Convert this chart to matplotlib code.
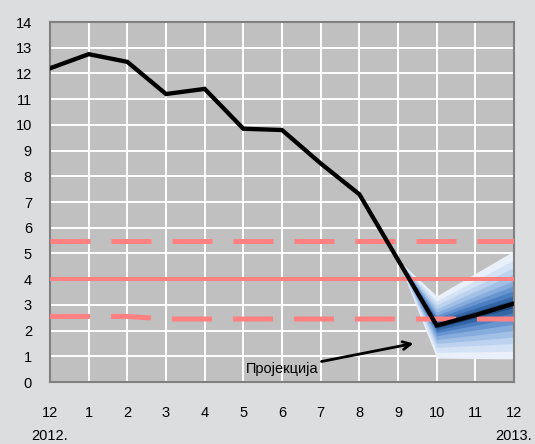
import matplotlib
matplotlib.use("Agg")
import matplotlib.pyplot as plt

# months from Dec 2012 (0) to Dec 2013 (12)
months = list(range(13))
month_labels = ["12", "1", "2", "3", "4", "5", "6", "7", "8", "9", "10", "11", "12"]

# actual inflation (black line)
actual_x = [0, 1, 2, 3, 4, 5, 6, 7, 8, 9, 10, 11, 12]
actual_y = [12.2, 12.75, 12.45, 11.2, 11.4, 9.85, 9.8, 8.5, 7.3, 4.75, 2.2, 2.6, 3.05]

# target band
target_x = [0, 1, 2, 3, 4, 5, 6, 7, 8, 9, 10, 11, 12]
target_mid = [4.0] * 13
target_up = [5.5] * 13
target_low = [2.55, 2.55, 2.55, 2.45, 2.45, 2.45, 2.45, 2.45, 2.45, 2.45, 2.45, 2.45, 2.45]

# projection fan: x points, band bounds from outer to inner
fan_x = [9, 10, 12]
fan_upper = [
    [4.75, 3.35, 5.10],
    [4.75, 3.15, 4.75],
    [4.75, 3.00, 4.45],
    [4.75, 2.85, 4.20],
    [4.75, 2.72, 3.95],
    [4.75, 2.60, 3.75],
    [4.75, 2.50, 3.55],
    [4.75, 2.40, 3.35],
    [4.75, 2.30, 3.20],
]
fan_lower = [
    [4.75, 0.93, 0.90],
    [4.75, 1.15, 1.20],
    [4.75, 1.35, 1.50],
    [4.75, 1.50, 1.75],
    [4.75, 1.65, 2.00],
    [4.75, 1.80, 2.25],
    [4.75, 1.92, 2.50],
    [4.75, 2.02, 2.70],
    [4.75, 2.10, 2.90],
]
fan_colors = ["#e9f0f9", "#d3e2f4", "#bcd2ee", "#a2c0e6", "#86acdd",
              "#6895d0", "#4b7ec0", "#3466a6", "#1f4a80"]

plt.rcParams['font.family'] = ['Liberation Sans', 'DejaVu Sans']

fig = plt.figure(figsize=(5.35, 4.44), dpi=100, facecolor="#dcdddf")
ax = fig.add_axes([0.0935, 0.1396, 0.8673, 0.8108])
ax.set_facecolor("#c0c0c0")

for up, lo, c in zip(fan_upper, fan_lower, fan_colors):
    ax.fill_between(fan_x, lo, up, color=c, lw=0, zorder=2)

ax.plot(target_x, target_mid, color="#ff8080", lw=2.9, zorder=3)
ax.plot(target_x, target_up, color="#ff8080", lw=3.6, dashes=(8, 4.2), zorder=3)
ax.plot(target_x, target_low, color="#ff8080", lw=3.6, dashes=(8, 4.2), zorder=3)

ax.plot(actual_x, actual_y, color="black", lw=3.1, zorder=4, solid_joinstyle="miter")

ax.annotate("Пројекција", xy=(9.4, 1.5), xytext=(6.95, 0.5),
            ha="right", va="center", fontsize=10.5,
            arrowprops=dict(arrowstyle="->", color="black", lw=2.0,
                            shrinkA=0, shrinkB=0, mutation_scale=14),
            zorder=5)

ax.set_xlim(0, 12)
ax.set_ylim(0, 14)
ax.set_xticks(months)
ax.set_xticklabels(month_labels)
ax.set_yticks(range(15))
ax.tick_params(axis="both", length=0, labelsize=10.5, colors="black")
ax.tick_params(axis="x", pad=17)
ax.tick_params(axis="y", pad=13)
ax.grid(True, color="white", lw=1.4, zorder=1)
ax.set_axisbelow(True)
for s in ax.spines.values():
    s.set_color("#808080")
    s.set_linewidth(1.5)

ax.text(0, -2.1, "2012.", ha="center", va="center", fontsize=10.5, clip_on=False)
ax.text(12, -2.1, "2013.", ha="center", va="center", fontsize=10.5, clip_on=False)

fig.savefig("out.png", dpi=100, facecolor=fig.get_facecolor())
